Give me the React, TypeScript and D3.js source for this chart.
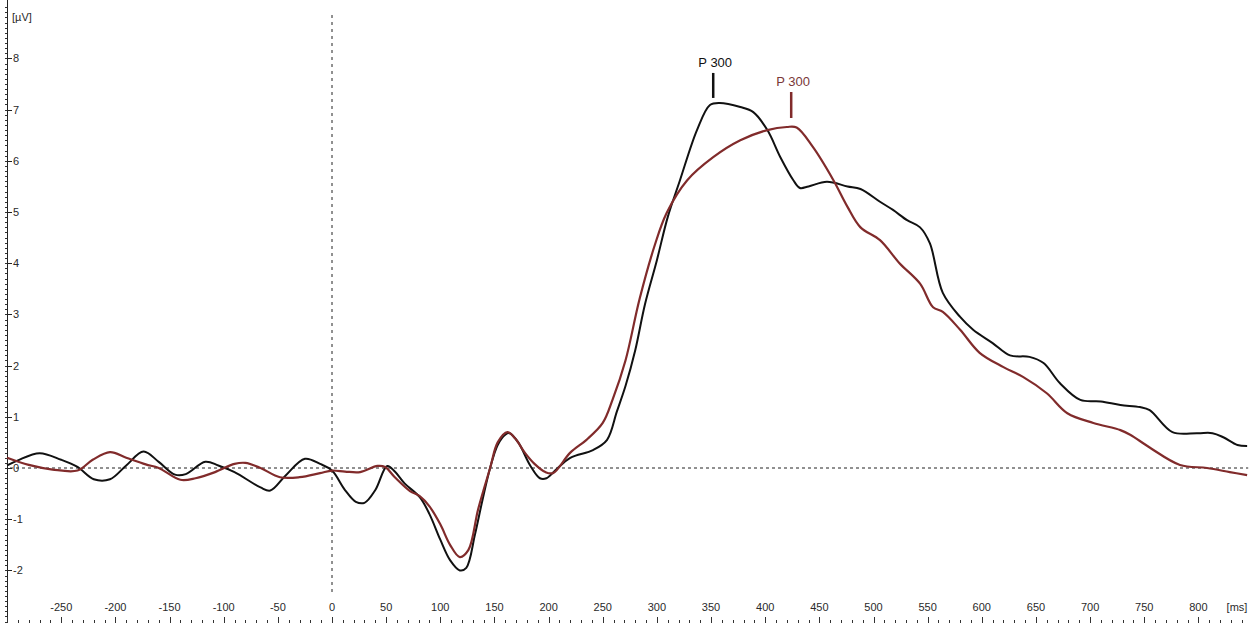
import * as d3 from "d3";
import { useEffect, useRef } from "react";

// time points (ms) and amplitudes (µV)
const blackTimes = [
  -300, -290, -270, -250, -235, -220, -205, -190, -174, -160, -145, -135, -117, -105, -90, -66, -57, -43, -25, -11,
  0, 12, 22, 30, 40, 51, 58, 67, 81, 90, 100, 109, 118, 124, 132, 139, 146, 153, 160, 164, 172, 183, 192, 198, 206,
  220, 241, 254, 263, 271, 280, 289, 300, 310, 321, 337, 349, 358, 377, 389, 402, 414, 426, 432, 440, 457, 476, 488,
  506, 518, 531, 543, 552, 564, 580, 592, 610, 626, 644, 657, 672, 691, 710, 728, 746, 755, 776, 799, 813, 823, 836, 845,
];
const blackValues = [
  0.05, 0.15, 0.29, 0.16, 0.02, -0.22, -0.22, 0.05, 0.32, 0.12, -0.13, -0.12, 0.12, 0.05, -0.08, -0.38, -0.44, -0.15, 0.18, 0.08,
  -0.05, -0.43, -0.66, -0.68, -0.43, 0.04, -0.07, -0.3, -0.57, -0.9, -1.4, -1.8, -2.0, -1.95, -1.3, -0.62, 0.0, 0.45, 0.65, 0.68, 0.5, 0.05, -0.2, -0.2, -0.05,
  0.2, 0.35, 0.55, 1.1, 1.6, 2.3, 3.2, 4.06, 4.9, 5.6, 6.6, 7.09, 7.13, 7.05, 6.95, 6.6, 6.07, 5.62, 5.47, 5.5, 5.59, 5.5, 5.45,
  5.2, 5.04, 4.84, 4.7, 4.39, 3.42, 2.95, 2.7, 2.44, 2.2, 2.17, 2.05, 1.66, 1.33, 1.3, 1.23, 1.19, 1.13, 0.7, 0.68, 0.68, 0.6, 0.45, 0.43,
];

const redTimes = [
  -300, -280, -258, -235, -221, -205, -190, -172, -160, -140, -126, -108, -90, -80, -66, -48, -30, -11,
  0, 12, 26, 42, 49, 58, 72, 81, 90, 100, 109, 118, 126, 135, 146, 153, 162, 169, 178, 187, 197, 204,
  220, 235, 250, 259, 271, 284, 298, 309, 328, 352, 377, 402, 420, 429, 444, 463, 476, 488,
  506, 524, 543, 555, 564, 580, 598, 620, 638, 660, 679, 703, 728, 737, 755, 783, 808, 829, 845,
];
const redValues = [
  0.2, 0.06, -0.03, -0.05, 0.16, 0.31, 0.2, 0.07, 0.0, -0.23, -0.2, -0.08, 0.08, 0.1, 0.0, -0.18, -0.18, -0.1,
  -0.05, -0.07, -0.08, 0.04, 0.02, -0.18, -0.45, -0.55, -0.75, -1.1, -1.5, -1.74, -1.6, -0.8, 0.0, 0.5, 0.7, 0.58, 0.3, 0.08, -0.08, -0.1,
  0.3, 0.55, 0.88, 1.33, 2.1, 3.3, 4.35, 4.98, 5.62, 6.07, 6.4, 6.6, 6.66, 6.65, 6.27, 5.62, 5.1, 4.7,
  4.45, 4.0, 3.6, 3.14, 3.05, 2.7, 2.25, 1.97, 1.78, 1.46, 1.07, 0.88, 0.74, 0.65, 0.4, 0.06, 0.0, -0.08, -0.14,
];

const xTicks = [-250, -200, -150, -100, -50, 0, 50, 100, 150, 200, 250, 300, 350, 400, 450, 500, 550, 600, 650, 700, 750, 800];
const yTicks = [-2, -1, 0, 1, 2, 3, 4, 5, 6, 7, 8];

// P300 peak markers: [time, amplitude]
const blackPeak = [352, 7.13];
const redPeak = [424, 6.66];

const BLACK = "#111111";
const RED = "#812b2b";
const RED_TEXT = "#7a3838";

export default function App() {
  const ref = useRef<SVGSVGElement>(null);

  useEffect(() => {
    const svg = d3.select(ref.current);
    svg.selectAll("*").remove();

    const H = 623;
    const x = d3.scaleLinear().domain([0, 800]).range([332, 1198.4]);
    const y = d3.scaleLinear().domain([0, 8]).range([468, 58.4]);
    const font = "'Liberation Sans', Arial, sans-serif";
    const ink = "#2a2a2a";

    // zero reference lines
    svg
      .append("line")
      .attr("x1", 10)
      .attr("x2", x(846))
      .attr("y1", y(0))
      .attr("y2", y(0))
      .attr("stroke", "#222")
      .attr("stroke-width", 1)
      .attr("stroke-dasharray", "3 3");

    svg
      .append("line")
      .attr("x1", x(0))
      .attr("x2", x(0))
      .attr("y1", 15)
      .attr("y2", 595)
      .attr("stroke", "#222")
      .attr("stroke-width", 1)
      .attr("stroke-dasharray", "3 4");

    // left axis
    svg
      .append("line")
      .attr("x1", 7.5)
      .attr("x2", 7.5)
      .attr("y1", 0)
      .attr("y2", H)
      .attr("stroke", "#222");

    const minorY = d3.range(-31, 91).map((d) => d / 10);
    svg
      .append("g")
      .selectAll("line")
      .data(minorY)
      .enter()
      .append("line")
      .attr("x1", 5)
      .attr("x2", 7.5)
      .attr("y1", (d) => Math.round(y(d)) + 0.5)
      .attr("y2", (d) => Math.round(y(d)) + 0.5)
      .attr("stroke", "#333");

    const yAxis = svg.append("g");
    yAxis
      .selectAll("line")
      .data(yTicks)
      .enter()
      .append("line")
      .attr("x1", 7.5)
      .attr("x2", 12)
      .attr("y1", (d) => Math.round(y(d)) + 0.5)
      .attr("y2", (d) => Math.round(y(d)) + 0.5)
      .attr("stroke", "#222");
    yAxis
      .selectAll("text")
      .data(yTicks)
      .enter()
      .append("text")
      .attr("x", 13)
      .attr("y", (d) => y(d) + 4)
      .attr("font-family", font)
      .attr("font-size", 11)
      .attr("fill", ink)
      .text((d) => String(d));

    svg
      .append("text")
      .attr("x", 12)
      .attr("y", 21)
      .attr("font-family", font)
      .attr("font-size", 11)
      .attr("fill", ink)
      .text("[µV]");

    // bottom axis (ticks only)
    const minorX = d3.range(-300, 850, 10);
    svg
      .append("g")
      .selectAll("line")
      .data(minorX)
      .enter()
      .append("line")
      .attr("x1", (d) => Math.round(x(d)) + 0.5)
      .attr("x2", (d) => Math.round(x(d)) + 0.5)
      .attr("y1", (d) => (d % 50 === 0 ? 617 : 620))
      .attr("y2", 623)
      .attr("stroke", "#333");

    svg
      .append("g")
      .selectAll("text")
      .data(xTicks)
      .enter()
      .append("text")
      .attr("x", (d) => x(d))
      .attr("y", 611)
      .attr("text-anchor", "middle")
      .attr("font-family", font)
      .attr("font-size", 11)
      .attr("fill", ink)
      .text((d) => String(d));

    svg
      .append("text")
      .attr("x", 1237)
      .attr("y", 611)
      .attr("text-anchor", "middle")
      .attr("font-family", font)
      .attr("font-size", 11)
      .attr("fill", ink)
      .text("[ms]");

    // waveforms
    const line = d3
      .line<[number, number]>()
      .x((d) => x(d[0]))
      .y((d) => y(d[1]))
      .curve(d3.curveCatmullRom.alpha(0.5));

    const black = blackTimes.map((t, i) => [t, blackValues[i]] as [number, number]);
    const red = redTimes.map((t, i) => [t, redValues[i]] as [number, number]);

    svg
      .append("path")
      .attr("d", line(black))
      .attr("fill", "none")
      .attr("stroke", BLACK)
      .attr("stroke-width", 2)
      .attr("stroke-linejoin", "round");

    svg
      .append("path")
      .attr("d", line(red))
      .attr("fill", "none")
      .attr("stroke", RED)
      .attr("stroke-width", 2.2)
      .attr("stroke-linejoin", "round");

    // P300 markers
    const markers = [
      { p: blackPeak, color: BLACK, text: "#111", gap: 5, len: 25 },
      { p: redPeak, color: RED, text: RED_TEXT, gap: 9, len: 26 },
    ];
    markers.forEach(({ p, color, text, gap, len }) => {
      const px = x(p[0]);
      const py = y(p[1]);
      svg
        .append("line")
        .attr("x1", px)
        .attr("x2", px)
        .attr("y1", py - gap)
        .attr("y2", py - gap - len)
        .attr("stroke", color)
        .attr("stroke-width", 2.5);
      svg
        .append("text")
        .attr("x", px + 2)
        .attr("y", py - gap - len - 6)
        .attr("text-anchor", "middle")
        .attr("font-family", font)
        .attr("font-size", 13)
        .attr("fill", text)
        .text("P 300");
    });
  }, []);

  return (
    <svg
      ref={ref}
      width={1260}
      height={623}
      style={{ position: "absolute", left: 0, top: 0, background: "#fff", display: "block" }}
    />
  );
}
